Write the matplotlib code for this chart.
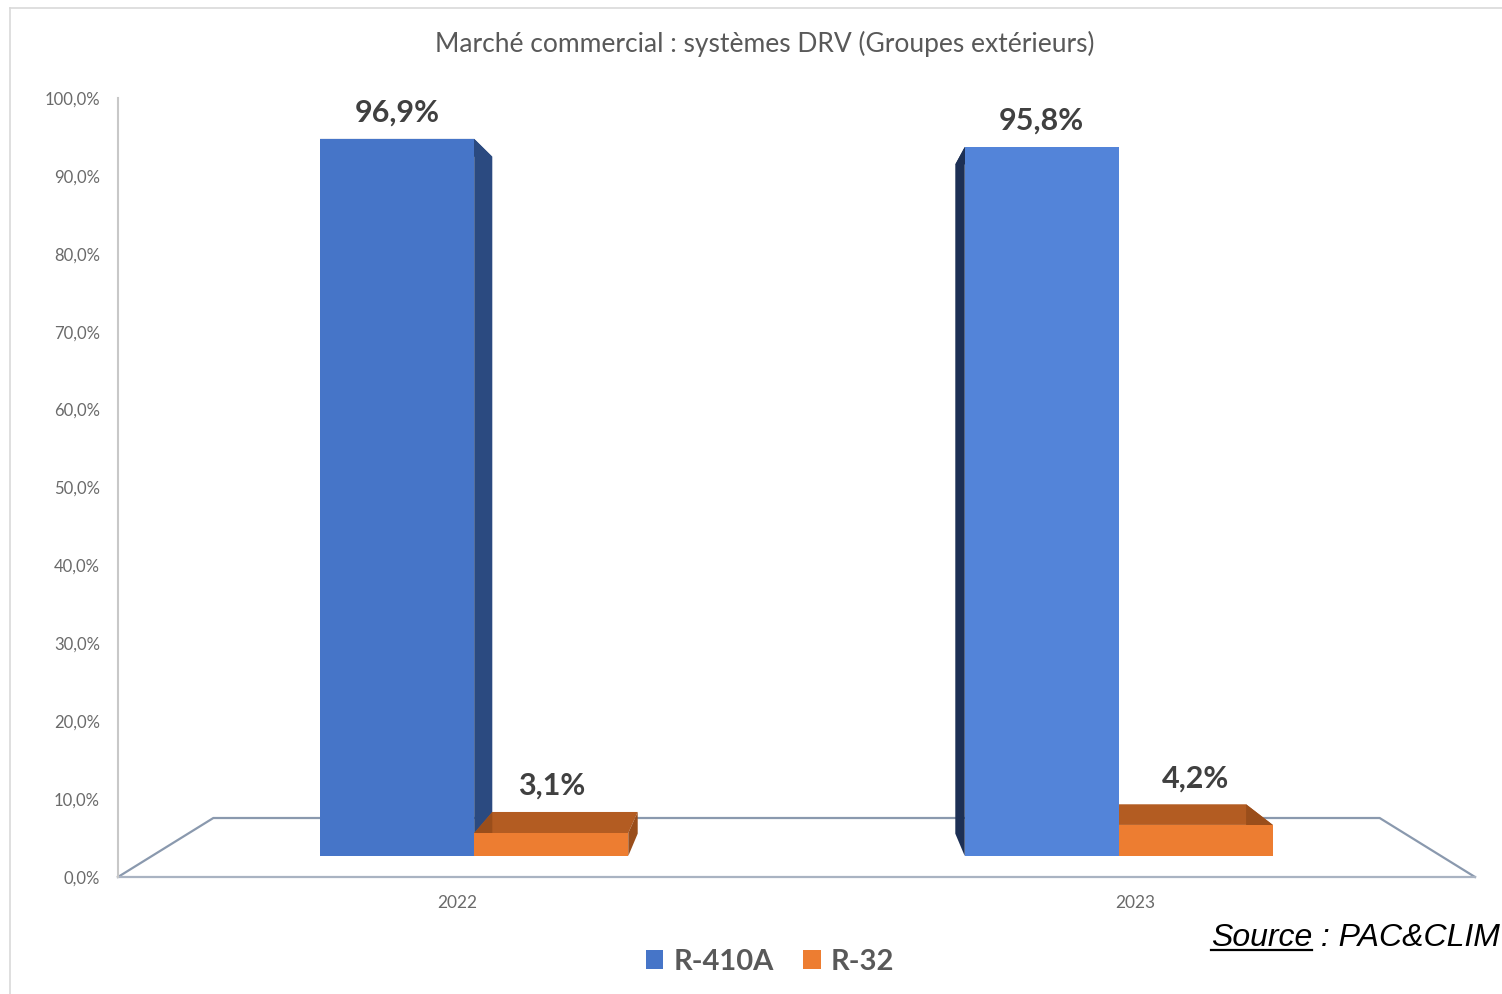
import numpy as np
import matplotlib
matplotlib.use("Agg")
import matplotlib.pyplot as plt
from matplotlib.patches import Polygon, Patch
from matplotlib.lines import Line2D

plt.rcParams['font.family'] = ['Lato', 'DejaVu Sans']

# data
years = ['2022', '2023']
series = ['R-410A', 'R-32']
r410a = [96.9, 95.8]
r32 = [3.1, 4.2]
title = "Marché commercial : systèmes DRV (Groupes extérieurs)"
yticks = np.arange(0, 101, 10)

# perspective model (axis plane s=1, bar front/back, floor back)
VX, VY = 0.5, 53.9
S_FRONT, S_BACK, S_FLOOR = 0.95, 0.8967, 0.8595
BAR_W = 0.239
blue_front = ['#4675c8', '#5384d9']
blue_side = ['#2b4a80', '#1d3055']
orange_front = '#ed7d31'
orange_top = '#b35c22'
orange_side = '#9a4e1b'


def proj(x, y, s):
    return (VX + (x - VX) * s, VY + (y - VY) * s)


fig = plt.figure(figsize=(15.02, 9.94), dpi=100)
ax = fig.add_axes([118 / 1502, 117 / 994, 1357 / 1502, 779 / 994])
ax.set_xlim(-0.5, 1.5)
ax.set_ylim(0, 100)

# floor
fl = [proj(-0.5, 0, 1), proj(-0.5, 0, S_FLOOR), proj(1.5, 0, S_FLOOR), proj(1.5, 0, 1)]
ax.plot([p[0] for p in fl], [p[1] for p in fl], color='#8a99ae', lw=1.6, zorder=1, clip_on=False)
ax.plot([-0.5, 1.5], [0, 0], color='#a9b3c2', lw=1.6, zorder=1, clip_on=False)


def box(x0, x1, h, front, side, top, ax):
    def face(pts, c, z):
        ax.add_patch(Polygon(pts, closed=True, facecolor=c, edgecolor='none', zorder=z))
    # top
    face([proj(x0, h, S_FRONT), proj(x1, h, S_FRONT), proj(x1, h, S_BACK), proj(x0, h, S_BACK)], top, 2)
    # sides
    for x in (x0, x1):
        face([proj(x, 0, S_FRONT), proj(x, h, S_FRONT), proj(x, h, S_BACK), proj(x, 0, S_BACK)], side, 2)
    # front
    face([proj(x0, 0, S_FRONT), proj(x1, 0, S_FRONT), proj(x1, h, S_FRONT), proj(x0, h, S_FRONT)], front, 3)


for i in range(len(years)):
    xb0, xb1 = i - BAR_W, i
    xo0, xo1 = i, i + BAR_W
    box(xb0, xb1, r410a[i], blue_front[i], blue_side[i], blue_side[i], ax)
    box(xo0, xo1, r32[i], orange_front, orange_side, orange_top, ax)
    for (a, b, v) in [(xb0, xb1, r410a[i]), (xo0, xo1, r32[i])]:
        px, py = proj((a + b) / 2, v, S_FRONT)
        py = max(py, proj((a + b) / 2, v, S_BACK)[1])
        ax.annotate(f"{v:.1f}%".replace('.', ','), (px, py), xytext=(0, 12),
                    textcoords='offset pixels', ha='center', va='bottom',
                    fontsize=22, fontweight='bold', color='#404040', zorder=5)

# axes styling
for sp in ['top', 'right', 'bottom']:
    ax.spines[sp].set_visible(False)
ax.spines['left'].set_color('#c8c8c8')
ax.spines['left'].set_linewidth(1.5)
ax.set_yticks(yticks)
ax.set_yticklabels([f"{t:.1f}%".replace('.', ',') for t in yticks], fontsize=12, color='#6a6a6a')
ax.set_xticks(range(len(years)))
ax.set_xticklabels(years, fontsize=12.5, color='#6a6a6a')
ax.tick_params(axis='both', length=0)
ax.tick_params(axis='x', pad=13)
ax.tick_params(axis='y', pad=13)

fig.text(765 / 1502, 1 - 44 / 994, title, ha='center', va='center', fontsize=19, color='#595959')

handles = [Patch(facecolor=blue_front[0]), Patch(facecolor=orange_front)]
fig.legend(handles, series, loc='center', bbox_to_anchor=(770 / 1502, 1 - 962 / 994), ncol=2,
           frameon=False, prop={'size': 21, 'weight': 'bold'}, labelcolor='#595959',
           handlelength=0.6, handleheight=0.6, handletextpad=0.35, columnspacing=1.0)

# chart border
fig.add_artist(Line2D([10 / 1502, 10 / 1502], [0, 1 - 8 / 994], transform=fig.transFigure, color='#d9d9d9', lw=1.2))
fig.add_artist(Line2D([10 / 1502, 1], [1 - 8 / 994, 1 - 8 / 994], transform=fig.transFigure, color='#d9d9d9', lw=1.2))

# source
t2 = fig.text(1500 / 1502, 1 - 946 / 994, " : PAC&CLIM", ha='right', va='baseline',
              fontsize=23, style='italic', family='Liberation Sans', color='black')
fig.canvas.draw()
bb = t2.get_window_extent()
t1 = fig.text(bb.x0 / 1502, 1 - 946 / 994, "Source", ha='right', va='baseline',
              fontsize=23, style='italic', family='Liberation Sans', color='black')
fig.canvas.draw()
b1 = t1.get_window_extent()
uy = (994 - 950) / 994
fig.add_artist(Line2D([b1.x0 / 1502, b1.x1 / 1502], [uy, uy], transform=fig.transFigure, color='black', lw=1.6))

fig.savefig('out.png', dpi=100)
